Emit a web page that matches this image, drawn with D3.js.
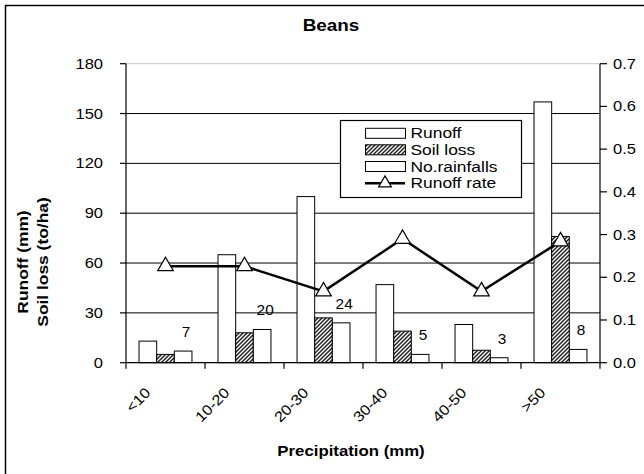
<!DOCTYPE html>
<html><head><meta charset="utf-8">
<script src="https://cdn.jsdelivr.net/npm/d3@7/dist/d3.min.js"></script>
<style>
html,body{margin:0;padding:0;background:#fff;}
svg{display:block;font-family:"Liberation Sans",Arial,sans-serif;}
</style></head>
<body>
<svg id="chart" width="644" height="474"></svg>
<script>
const categories = ["<10","10-20","20-30","30-40","40-50",">50"];
const runoff     = [13, 65, 100, 47, 23, 157];
const soilLoss   = [5, 18, 27, 19, 7.5, 76];
const noRainfalls= [7, 20, 24, 5, 3, 8];
const runoffRate = [0.226, 0.226, 0.167, 0.290, 0.167, 0.284];
const leftTicks  = [0, 30, 60, 90, 120, 150, 180];
const rightTicks = [0, 0.1, 0.2, 0.3, 0.4, 0.5, 0.6, 0.7];
const seriesNames = ["Runoff","Soil loss","No.rainfalls","Runoff rate"];

const svg = d3.select("#chart");
const L = 126, R = 600, T = 63.7, B = 362.7;
const SX = 1.18; // horizontal text stretch

const defs = svg.append("defs");
const pat = defs.append("pattern").attr("id","hatch").attr("patternUnits","userSpaceOnUse")
  .attr("width",4).attr("height",4);
pat.append("rect").attr("width",4).attr("height",4).attr("fill","#fff");
pat.append("path").attr("d","M-1,1 l2,-2 M0,4 l4,-4 M3,5 l2,-2")
  .attr("stroke","#222").attr("stroke-width",1.5);

// outer frame
svg.append("rect").attr("x",5.5).attr("y",5.5).attr("width",660).attr("height",480)
  .attr("fill","#fff").attr("stroke","#000").attr("stroke-width",1.5);

const x0 = d3.scaleBand().domain(categories).range([L,R]).paddingInner(0.33).paddingOuter(0.165);
const x1 = d3.scaleBand().domain([0,1,2]).range([0,x0.bandwidth()]);
const xc = d3.scaleBand().domain(categories).range([L,R]);
const yL = d3.scaleLinear().domain([0,180]).range([B,T]);
const yR = d3.scaleLinear().domain([0,0.7]).range([B,T]);

function stext(g, x, y, str, opts={}) {
  const t = g.append("text")
    .attr("transform", `translate(${x},${y})${opts.rot?` rotate(${opts.rot})`:""} scale(${opts.sx||SX},1)`)
    .attr("text-anchor", opts.anchor||"start")
    .attr("font-size", opts.size||14)
    .attr("font-weight", opts.bold?"bold":"normal")
    .attr("fill","#000")
    .text(str);
  return t;
}

// gridlines
svg.append("g").selectAll("line").data(leftTicks.filter(d=>d>0)).join("line")
  .attr("x1",L).attr("x2",R).attr("y1",d=>yL(d)).attr("y2",d=>yL(d))
  .attr("stroke",d=>d===180?"#c8c8c8":"#000").attr("stroke-width",1);

// bars
const seriesVals = [runoff, soilLoss, noRainfalls];
const barG = svg.append("g");
categories.forEach((c,i)=>{
  seriesVals.forEach((arr,s)=>{
    barG.append("rect")
      .attr("x", x0(c)+x1(s)).attr("width", x1.bandwidth())
      .attr("y", yL(arr[i])).attr("height", B-yL(arr[i]))
      .attr("fill", s===1?"url(#hatch)":"#fff")
      .attr("stroke","#000").attr("stroke-width",1);
  });
});

// data labels for No.rainfalls
const lblG = svg.append("g");
categories.forEach((c,i)=>{
  stext(lblG, x0(c)+x1(2)+x1.bandwidth()/2+3, yL(noRainfalls[i])-14, String(noRainfalls[i]), {anchor:"middle", size:14, sx:1.1});
});

// axes
const axG = svg.append("g").attr("stroke","#000").attr("stroke-width",1.2);
axG.append("line").attr("x1",L).attr("x2",L).attr("y1",T).attr("y2",B);
axG.append("line").attr("x1",R).attr("x2",R).attr("y1",T).attr("y2",B);
axG.append("line").attr("x1",L).attr("x2",R).attr("y1",B).attr("y2",B);
leftTicks.forEach(t=>{
  axG.append("line").attr("x1",L-6).attr("x2",L).attr("y1",yL(t)).attr("y2",yL(t));
});
rightTicks.forEach(t=>{
  axG.append("line").attr("x1",R).attr("x2",R+7).attr("y1",yR(t)).attr("y2",yR(t));
});
const bTicks = categories.map(c=>xc(c)).concat([R]);
bTicks.forEach(xv=>{
  axG.append("line").attr("x1",xv).attr("x2",xv).attr("y1",B).attr("y2",B+6);
});

const tg = svg.append("g");
leftTicks.forEach(t=>{
  stext(tg, 103, yL(t)+5, d3.format("d")(t), {anchor:"end"});
});
rightTicks.forEach(t=>{
  stext(tg, 613, yR(t)+5, d3.format(".1f")(t), {anchor:"start"});
});
categories.forEach(c=>{
  stext(tg, xc(c)+xc.bandwidth()/2-14, B+31, c, {anchor:"end", rot:-45, sx:1.12, size:14.5});
});

// runoff rate line
const lineGen = d3.line().x((d,i)=>xc(categories[i])+xc.bandwidth()/2).y(d=>yR(d));
svg.append("path").datum(runoffRate).attr("d",lineGen)
  .attr("fill","none").attr("stroke","#000").attr("stroke-width",2.5);
const tri = d3.symbol().type(d3.symbolTriangle).size(105);
svg.append("g").selectAll("path").data(runoffRate).join("path")
  .attr("transform",(d,i)=>`translate(${xc(categories[i])+xc.bandwidth()/2},${yR(d)})`)
  .attr("d",tri).attr("fill","#fff").attr("stroke","#000").attr("stroke-width",1.2);

// titles
stext(svg, 331, 31, "Beans", {anchor:"middle", bold:true, size:16});
stext(svg, 351, 456, "Precipitation (mm)", {anchor:"middle", bold:true, size:15, sx:1.12});
stext(svg, 28, 262, "Runoff (mm)", {anchor:"middle", bold:true, size:14.5, rot:-90, sx:1.2});
stext(svg, 48, 262, "Soil loss (to/ha)", {anchor:"middle", bold:true, size:14.5, rot:-90, sx:1.2});

// legend
const lg = svg.append("g");
lg.append("rect").attr("x",340.5).attr("y",120.5).attr("width",181).attr("height",77)
  .attr("fill","#fff").attr("stroke","#000").attr("stroke-width",1.2);
const rowY = [133.3, 149.8, 166.5, 183.2];
seriesNames.forEach((n,i)=>{
  const cy = rowY[i];
  if (i<3) {
    lg.append("rect").attr("x",365.5).attr("y",cy-5).attr("width",40).attr("height",10)
      .attr("fill", i===1?"url(#hatch)":"#fff").attr("stroke","#000").attr("stroke-width",1);
  } else {
    lg.append("line").attr("x1",365).attr("x2",405).attr("y1",cy).attr("y2",cy)
      .attr("stroke","#000").attr("stroke-width",2.5);
    lg.append("path").attr("transform",`translate(385,${cy})`).attr("d",d3.symbol().type(d3.symbolTriangle).size(70))
      .attr("fill","#fff").attr("stroke","#000").attr("stroke-width",1.2);
  }
  stext(lg, 410.5, cy+5, n, {anchor:"start", size:14.5, sx:1.2});
});
</script>
</body></html>
